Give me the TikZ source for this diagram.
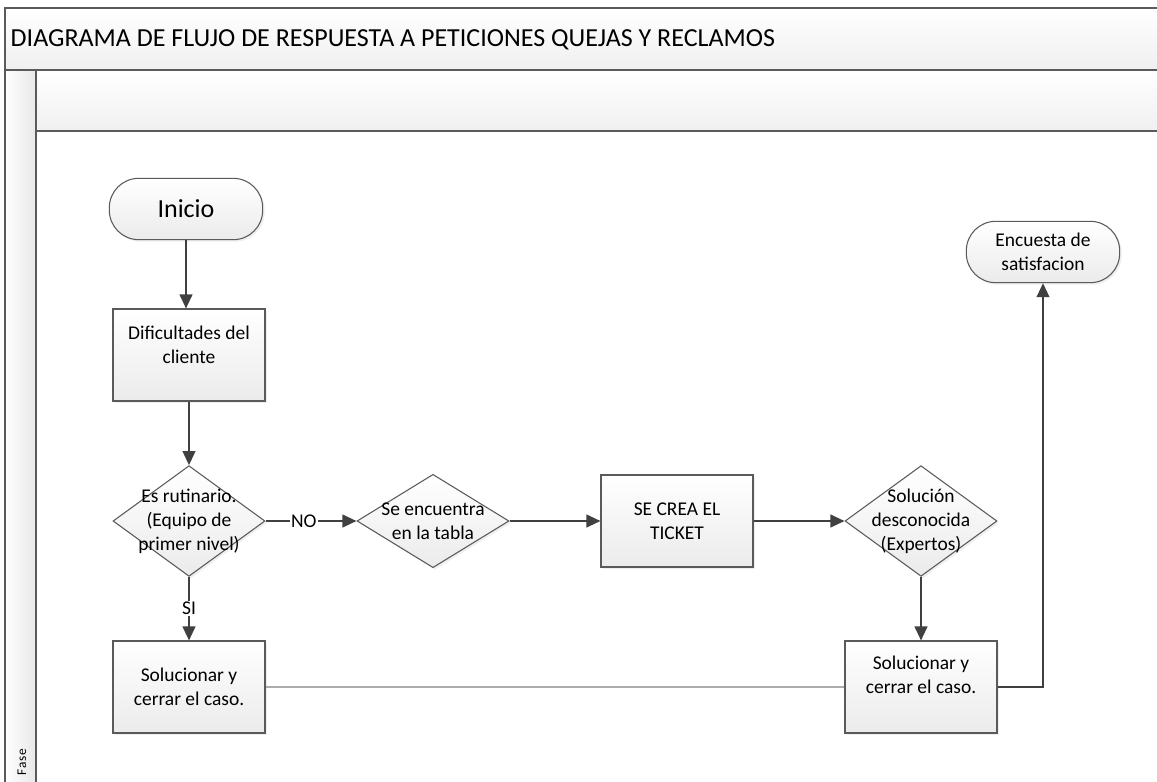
\documentclass[tikz,border=0pt]{standalone}
\usepackage{fontspec}
\setmainfont{Carlito}
\usepackage{tikz}
\usetikzlibrary{positioning,shapes,arrows.meta,calc,shadows}

\definecolor{linea}{HTML}{404040}
\definecolor{borde}{HTML}{5A5A5A}
\definecolor{relleno}{HTML}{EBEBEB}

\begin{document}
\begin{tikzpicture}[x=0.75pt,y=-0.75pt,
    caja/.style={draw=borde,line width=0.8pt,top color=white,bottom color=relleno,
      drop shadow={shadow xshift=1.5pt,shadow yshift=-1.5pt,fill=gray!25},
      font=\fontsize{14.6}{18}\selectfont,align=center},
    proceso/.style={caja,rectangle,minimum width=114pt,minimum height=69pt},
    inicio/.style={caja,rectangle,rounded corners=22pt,minimum width=115pt,minimum height=46pt},
    decision/.style={caja,diamond,inner sep=0pt,minimum width=114pt},
    txt/.style={font=\fontsize{14.6}{18}\selectfont,align=center},
    flecha/.style={draw=linea,line width=1.5pt,-{Triangle[length=10.5pt,width=9.5pt]}},
    rotulo/.style={fill=white,inner sep=1pt,font=\fontsize{14.6}{18}\selectfont}]
      \clip (0,0) rectangle (1157,782);
      % marco de la fase
      \fill[top color=white,bottom color=gray!12] (5,8) rectangle (1165,70);
      \fill[top color=white,bottom color=gray!12] (36,70) rectangle (1165,131);
      \fill[left color=white,right color=gray!18] (5,70) rectangle (36,790);
      \draw[borde,line width=1.1pt] (1165,8) -- (5,8) -- (5,790);
      \draw[borde,line width=1.1pt] (5,70) -- (1165,70);
      \draw[borde,line width=1.1pt] (36,70) -- (36,790);
      \draw[borde,line width=1.1pt] (36,131) -- (1165,131);
      \node[anchor=west,font=\fontsize{19.5}{22}\selectfont] (titulo) at (6,40)
        {DIAGRAMA DE FLUJO DE RESPUESTA A PETICIONES QUEJAS Y RECLAMOS};
      \node[rotate=90,font=\fontsize{10}{12}\selectfont\addfontfeature{LetterSpace=8}] (fase) at (22,762) {Fase};

      % nodos
      \node[inicio,font=\fontsize{19.5}{22}\selectfont] (ini) at (186,209) {Inicio};
      \node[proceso] (dific) at (189,355) {Dificultades del\\cliente\\[-3pt]};
      \node[decision,minimum height=83pt,
        label={[txt]center:{Es rutinario.\\(Equipo de\\primer nivel)}}] (rutina) at (189,521) {};
      \node[decision,minimum height=70pt,
        label={[txt]center:{Se encuentra\\en la tabla}}] (tabla) at (433,521) {};
      \node[proceso] (ticket) at (677,521) {SE CREA EL\\TICKET};
      \node[decision,minimum height=83pt,
        label={[txt]center:{Solución\\desconocida\\(Expertos)}}] (experto) at (921,521) {};
      \node[proceso] (sol1) at (189,687) {Solucionar y\\cerrar el caso.};
      \node[proceso] (sol2) at (921,687) {Solucionar y\\cerrar el caso.\\[0pt]};
      \node[inicio] (encuesta) at (1043,252) {Encuesta de\\satisfacion};

      % conectores
      \draw[flecha] (ini.south) -- (ini.south |- dific.north);
      \draw[flecha] (dific) -- (rutina);
      \draw[flecha] (rutina.east) -- node[rotulo,pos=0.42] {NO} (tabla.west);
      \draw[flecha] (rutina.south) -- node[rotulo,pos=0.5] {SI} (sol1.north);
      \draw[flecha] (tabla.east) -- (ticket.west);
      \draw[flecha] (ticket.east) -- (experto.west);
      \draw[flecha] (experto.south) -- (sol2.north);
      \draw[gray!65,line width=1.1pt] (sol1.east) -- (sol2.west);
      \draw[flecha] (sol2.east) -| (encuesta.south);
    \end{tikzpicture}
\end{document}
